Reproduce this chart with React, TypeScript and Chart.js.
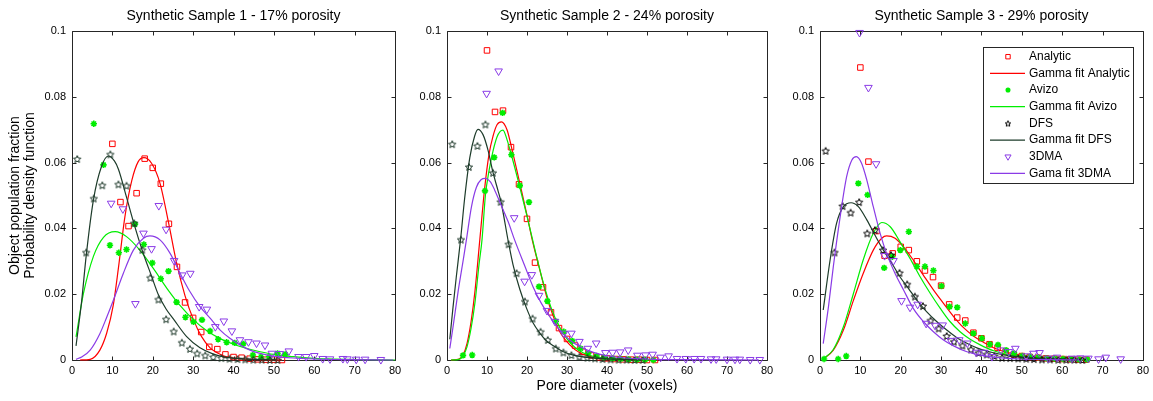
import React, { useEffect, useRef } from 'react';
import { Chart, registerables } from 'chart.js';
import { drawPoint } from 'chart.js/helpers';

Chart.register(...registerables);

const FONT = "'Liberation Sans', Arial, Helvetica, sans-serif";

// ---------- ticks / labels ----------
const xTickValues = [0, 10, 20, 30, 40, 50, 60, 70, 80];
const xTickLabels = ['0', '10', '20', '30', '40', '50', '60', '70', '80'];
const yTickValues = [0, 0.02, 0.04, 0.06, 0.08, 0.1];
const yTickLabels = ['0', '0.02', '0.04', '0.06', '0.08', '0.1'];

const panelTitles = [
  'Synthetic Sample 1 - 17% porosity',
  'Synthetic Sample 2 - 24% porosity',
  'Synthetic Sample 3 - 29% porosity',
];
const seriesLabels = [
  'Analytic', 'Gamma fit Analytic', 'Avizo', 'Gamma fit Avizo',
  'DFS', 'Gamma fit DFS', '3DMA', 'Gama fit 3DMA',
];
const yAxisTitle = ['Object population fraction', 'Probability density function'];
const xAxisTitle = 'Pore diameter (voxels)';

type P = [number, number][];

// ---------- Panel 1 ----------
const p1Analytic: P = [[10,0.0657],[12,0.048],[14,0.0407],[16,0.0507],[18,0.0612],[20,0.0584],[22,0.0536],[24,0.0414],[26,0.0283],[28,0.0175],[30,0.0128],[32,0.0085],[34,0.004],[36,0.0033],[38,0.0017],[40,0.0009],[42,0.0007],[44,0.0004],[46,0.0002],[48,0.0001],[50,0.0001],[52,0]];
const p1FitAnalytic: P = [[2,0],[4.5,0.0002],[6.9,0.003],[8.6,0.0082],[10.2,0.0165],[11.5,0.028],[13.1,0.0435],[14.8,0.0545],[16.4,0.0603],[17.8,0.0615],[19.7,0.0598],[21.8,0.0537],[23.9,0.0418],[25.9,0.0295],[28,0.0195],[30.1,0.0122],[32.1,0.0071],[34.2,0.0037],[36.3,0.002],[38.3,0.001],[42.4,0.0003],[46.6,0.0001],[52,0]];
const p1Avizo: P = [[5.4,0.0718],[7.8,0.0593],[9.4,0.0349],[11.6,0.0326],[13.5,0.0336],[15.6,0.0413],[17.8,0.0351],[19.9,0.0295],[22,0.0247],[23.9,0.027],[25.9,0.0176],[28.1,0.013],[30.1,0.0116],[32.2,0.0122],[34.2,0.0088],[36.2,0.0063],[38.3,0.0054],[40.3,0.0052],[42.4,0.0049],[44.8,0.0015],[46.8,0.001],[48.8,0.001],[50.9,0.002],[52.8,0.0017]];
const p1FitAvizo: P = [[1,0.007],[2.8,0.02],[5.3,0.0315],[7.8,0.0373],[10.7,0.039],[13.5,0.0375],[16.8,0.0334],[20.1,0.0279],[23.5,0.0218],[26.8,0.0165],[30.1,0.0122],[33.4,0.0089],[36.7,0.0065],[40,0.0048],[43.3,0.0035],[46.6,0.0025],[49.9,0.0017],[54.8,0.001],[59.8,0.0005],[64.7,0.0003],[71.3,0.0001],[80,0]];
const p1Dfs: P = [[1.3,0.0611],[3.5,0.0327],[5.4,0.0491],[7.5,0.0531],[9.5,0.0625],[11.5,0.0534],[13.5,0.053],[15.4,0.0416],[17.4,0.0335],[19.4,0.025],[21.4,0.0184],[23.3,0.0124],[25.2,0.0087],[27.2,0.0053],[29.2,0.0034],[31,0.002],[33,0.0014],[35,0.0009],[37,0.0006],[39,0.0004],[41,0.0003],[42.9,0.0002],[44.9,0.0001],[47,0.0001],[49,0],[50.9,0]];
const p1FitDfs: P = [[1,0.0043],[2.4,0.018],[3.5,0.0315],[5.3,0.0486],[7.3,0.0588],[9,0.062],[10.5,0.0605],[11.5,0.058],[13.5,0.0495],[15.4,0.0412],[17.4,0.0333],[19.7,0.0255],[21.4,0.0198],[23.3,0.0155],[25.1,0.0125],[28.4,0.0071],[31.7,0.0037],[35,0.0018],[38.3,0.0008],[41.6,0.0004],[45,0.0002],[51,0]];
const p1Dma: P = [[9.7,0.0476],[12.6,0.0459],[15.7,0.0171],[17.7,0.0385],[19.7,0.0338],[21.5,0.0469],[23.3,0.0397],[25.3,0.0302],[27.3,0.0258],[29.3,0.0263],[31.5,0.0162],[33.4,0.0154],[35.5,0.0101],[37.6,0.0118],[39.6,0.0088],[41.6,0.0061],[43.7,0.0055],[45.7,0.0051],[47.8,0.0045],[49.5,0.002],[51.5,0.0019],[53.7,0.0027],[56.1,0.001],[58,0.001],[60,0.0013],[62.1,0.0004],[63.9,0.0003],[67.1,0.0004],[68.2,0.0003],[70.4,0.0002],[72.6,0.0002],[76.5,0.0001]];
const p1FitDma: P = [[1,0.0002],[2.5,0.001],[4.5,0.003],[6.9,0.008],[8.6,0.013],[10.2,0.018],[12.7,0.0263],[15.2,0.0334],[17.7,0.037],[19.3,0.0377],[21.8,0.0365],[24.3,0.0324],[26.8,0.0263],[29.2,0.0208],[31.7,0.0162],[34.2,0.0127],[36.7,0.0091],[39.1,0.0066],[41.6,0.0046],[44.1,0.003],[46.6,0.002],[49.9,0.0012],[54.8,0.0006],[59.8,0.0003],[67.2,0.0001],[79.6,0]];

// ---------- Panel 2 ----------
const p2Analytic: P = [[10,0.0941],[12,0.0754],[14,0.0758],[16,0.0647],[18,0.0534],[20,0.0429],[22,0.0296],[24,0.0221],[26,0.0145],[28,0.0097],[30,0.0064],[32,0.0044],[34,0.0025],[36,0.0014],[38,0.0008],[40,0.0005],[42,0.0003],[44,0.0002],[46,0.0001],[48,0.0001],[50,0],[52,0]];
const p2FitAnalytic: P = [[1,0],[3,0.0003],[4,0.0015],[5,0.005],[6,0.0115],[7,0.021],[8.2,0.0365],[9.4,0.052],[10.5,0.0625],[11.5,0.068],[12.5,0.0715],[13.6,0.0724],[15,0.07],[16.1,0.0648],[18.2,0.0537],[19.9,0.0446],[21.5,0.0355],[23.2,0.0274],[24.9,0.0193],[26.6,0.0132],[28.2,0.0086],[30.7,0.0046],[33.2,0.0022],[36.6,0.0008],[39.9,0.0003],[44.9,0.0001],[52,0]];
const p2Avizo: P = [[4,0.0014],[6.3,0.0015],[9.5,0.0514],[11.8,0.0616],[13.9,0.0751],[16.1,0.0624],[18.2,0.053],[20.5,0.048],[23,0.0223],[25.1,0.0179],[27.2,0.0117],[29.2,0.0086],[31.3,0.0058],[33.4,0.0035],[35.3,0.002],[37.4,0.0012],[39.3,0.0008],[41.4,0.0005],[43.4,0.0003],[45.4,0.0002],[47.5,0.0001],[49.5,0.0001],[51.6,0]];
const p2FitAvizo: P = [[1,0],[3,0.0002],[4,0.0012],[5,0.004],[6,0.0095],[7,0.0175],[8,0.029],[8.75,0.0365],[9.6,0.05],[10.5,0.0575],[11.5,0.0635],[12.5,0.0678],[13.3,0.0695],[14,0.0699],[15,0.067],[16.1,0.0623],[18,0.0535],[20,0.0437],[22,0.0335],[24,0.0238],[26,0.016],[28,0.0103],[30,0.0064],[32,0.0038],[34,0.0022],[36,0.0013],[40,0.0004],[45,0.0001],[52,0]];
const p2Dfs: P = [[1.3,0.0656],[3.5,0.0366],[5.5,0.0587],[7.6,0.0651],[9.6,0.0716],[11.5,0.0569],[13.4,0.0481],[15.4,0.0352],[17.4,0.0264],[19.5,0.0178],[21.4,0.0126],[23.4,0.0086],[25.2,0.0061],[27.2,0.0035],[29.1,0.0023],[31.1,0.0015],[33.1,0.001],[35.1,0.0007],[37,0.0005],[38.9,0.0003],[40.9,0.0002],[42.9,0.0001],[44.9,0.0001],[46.9,0],[48.9,0]];
const p2FitDfs: P = [[0.7,0.0063],[1.5,0.016],[2.3,0.025],[3.4,0.0367],[4.4,0.049],[5.7,0.0615],[6.9,0.068],[7.75,0.0701],[9,0.0685],[10.25,0.0638],[11.5,0.057],[12.75,0.0515],[13.5,0.0481],[15.4,0.0355],[16.5,0.029],[18.2,0.0215],[19.9,0.0157],[21.5,0.0113],[23.2,0.0082],[24.9,0.0058],[26.6,0.0043],[29.1,0.0025],[31.6,0.0015],[34.9,0.0008],[39.1,0.0004],[43.3,0.0002],[48.9,0]];
const p2Dma: P = [[9.9,0.081],[12.9,0.0878],[16.8,0.0432],[19.4,0.0239],[21.2,0.0259],[23,0.0196],[25,0.015],[27,0.0117],[29.2,0.0081],[31.1,0.0081],[33.1,0.0056],[35.2,0.0035],[37.3,0.0051],[39.6,0.0022],[41.4,0.0023],[43.3,0.0024],[45.3,0.003],[47.6,0.0014],[49.6,0.0015],[51.4,0.0017],[53.4,0.0008],[55.4,0.0012],[57.5,0.0004],[59.7,0.0004],[61.8,0.0004],[63.5,0.0004],[66,0.0003],[67.3,0.0003],[70,0.0002],[72,0.0002],[73.2,0.0002],[75.8,0.0001],[78.2,0.0001]];
const p2FitDma: P = [[0.7,0.0035],[1.5,0.01],[2.8,0.021],[4,0.03],[4.85,0.0365],[6.1,0.0465],[7.35,0.0525],[8.5,0.0548],[9.6,0.0552],[10.8,0.0542],[11.9,0.0517],[13.2,0.048],[14.4,0.0446],[15.3,0.042],[16.9,0.0365],[19.5,0.0284],[21.5,0.0223],[23.6,0.0172],[25.7,0.0132],[28.2,0.0091],[30.7,0.0061],[33.2,0.0041],[36.6,0.0023],[39.9,0.0013],[44.9,0.0006],[51.6,0.0002],[60,0.0001],[78,0]];

// ---------- Panel 3 ----------
const p3Analytic: P = [[10,0.0889],[12,0.0603],[14,0.0392],[16,0.0317],[18,0.0324],[20,0.0344],[22,0.0334],[24,0.03],[26,0.0272],[28,0.0252],[30,0.0226],[32,0.0169],[34,0.0129],[36,0.012],[38,0.0083],[40,0.0066],[42,0.0048],[44,0.0037],[46,0.0026],[48,0.0017],[50,0.0012],[52,0.0009],[54,0.0007],[56,0.0005],[58,0.0004],[60,0.0003],[62,0.0002],[64,0.0001],[66,0.0001]];
const p3FitAnalytic: P = [[0.8,0.0003],[3.3,0.003],[5.8,0.0091],[8.3,0.0182],[10.7,0.0263],[13.2,0.0334],[15.3,0.037],[16.5,0.0377],[18.6,0.037],[20.7,0.0344],[23.1,0.0304],[25.6,0.0258],[28.1,0.0213],[30.6,0.0172],[33.1,0.0132],[35.5,0.0099],[38,0.0073],[40.5,0.0054],[43,0.0037],[46.3,0.0023],[49.6,0.0014],[54.5,0.0007],[60.3,0.0003],[66.1,0.0001]];
const p3Avizo: P = [[1,0.0003],[4.5,0.0003],[6.5,0.0012],[9.5,0.0537],[11.8,0.0502],[15.9,0.028],[17.9,0.0314],[19.9,0.0334],[22,0.039],[24,0.0284],[26,0.0284],[28.1,0.0272],[30.1,0.0225],[32.1,0.0162],[34,0.016],[36,0.0111],[38,0.0081],[40.1,0.0066],[42.1,0.0048],[44.1,0.0046],[46.1,0.003],[48.1,0.002],[50.1,0.0012],[52.1,0.001],[54.1,0.0008],[56.1,0.0005],[58.1,0.0004],[60.2,0.0003],[62.2,0.0002],[64.2,0.0001],[66.2,0.0001]];
const p3FitAvizo: P = [[0.8,0.0003],[3.3,0.0032],[5.8,0.0101],[8.3,0.0203],[10.7,0.0304],[13.2,0.0385],[15.3,0.0418],[17.4,0.0405],[19.8,0.036],[22.3,0.0309],[24.8,0.0253],[27.3,0.0203],[29.8,0.0157],[32.2,0.0117],[34.7,0.0086],[37.2,0.0063],[39.7,0.0046],[43,0.0028],[46.3,0.0017],[49.6,0.001],[54.5,0.0005],[60.3,0.0002],[66.1,0.0001]];
const p3Dfs: P = [[1.4,0.0636],[3.6,0.0327],[5.6,0.0468],[7.6,0.0448],[9.7,0.048],[11.7,0.0385],[13.6,0.0395],[15.6,0.0334],[17.6,0.0319],[19.7,0.0265],[21.6,0.023],[23.5,0.0193],[25.5,0.0164],[27.4,0.012],[29.4,0.0096],[31.4,0.0073],[33.2,0.0056],[35.3,0.0044],[37.4,0.0032],[39.3,0.0022],[41.3,0.0017],[43.2,0.0012],[45.1,0.0007],[47.1,0.0006],[49.1,0.0005],[51.1,0.0004],[53,0.0003],[55,0.0002],[57,0.0002],[59,0.0001],[61,0.0001],[63,0.0001],[65,0]];
const p3FitDfs: P = [[0.8,0.0152],[2.5,0.0304],[4.1,0.0415],[5.8,0.0466],[7.7,0.0478],[9.5,0.0466],[11.6,0.0426],[13.6,0.038],[15.7,0.0334],[17.8,0.0294],[19.8,0.0253],[21.9,0.0218],[24,0.0182],[26.4,0.0147],[28.9,0.0117],[31.4,0.0091],[33.9,0.0068],[36.4,0.0051],[39.7,0.0033],[43,0.0022],[46.3,0.0014],[51.2,0.0007],[56.2,0.0004],[62.8,0.0001]];
const p3Dma: P = [[9.8,0.0995],[12,0.0828],[13.9,0.0596],[16,0.0317],[18.2,0.0302],[20.2,0.018],[22.3,0.016],[24.2,0.0169],[26.3,0.0111],[28.5,0.0105],[30.4,0.0106],[32.4,0.0059],[34.5,0.0061],[36.5,0.0051],[38.7,0.0023],[40.7,0.0023],[42.6,0.001],[44.8,0.003],[46.8,0.0025],[48.4,0.0035],[51.1,0.0012],[52.9,0.002],[54.4,0.0022],[56.6,0.0005],[58.7,0.0008],[62.4,0.0005],[64.5,0.0006],[66.5,0.0005],[69,0.0003],[70.8,0.0008],[74.5,0.0003]];
const p3FitDma: P = [[0.8,0.005],[2.1,0.0162],[3.3,0.0284],[5,0.0436],[6.6,0.0557],[7.9,0.0608],[9,0.0618],[10.3,0.0598],[11.6,0.0547],[13.2,0.0466],[14.9,0.0385],[16.5,0.0324],[18.6,0.0263],[20.7,0.0213],[23.1,0.0157],[25.6,0.0117],[28.1,0.0086],[30.6,0.0061],[33.1,0.0043],[36.4,0.0025],[39.7,0.0015],[43.8,0.0008],[49.6,0.0003],[56.2,0.0001],[64,0]];

// ---------- styles ----------
const RED = '#ff0000';
const GREEN = '#00ee00';
const DFS_LINE = '#1d3b2a';
const PURPLE = '#8a3be6';
const FRAME = '#262626';

interface PanelDef {
  title: string;
  series: P[];
  dfsStarColor: string;
  left: number; width: number; yWidth: number; padRight: number;
  yTitle: boolean; xTitle: boolean; legend: boolean;
}

const PANELS: PanelDef[] = [
  { title: panelTitles[0], series: [p1Analytic, p1FitAnalytic, p1Avizo, p1FitAvizo, p1Dfs, p1FitDfs, p1Dma, p1FitDma], dfsStarColor: '#1a3526', left: 0, width: 410, yWidth: 72, padRight: 15, yTitle: true, xTitle: false, legend: false },
  { title: panelTitles[1], series: [p2Analytic, p2FitAnalytic, p2Avizo, p2FitAvizo, p2Dfs, p2FitDfs, p2Dma, p2FitDma], dfsStarColor: '#1a3526', left: 410, width: 375, yWidth: 37, padRight: 18, yTitle: false, xTitle: true, legend: false },
  { title: panelTitles[2], series: [p3Analytic, p3FitAnalytic, p3Avizo, p3FitAvizo, p3Dfs, p3FitDfs, p3Dma, p3FitDma], dfsStarColor: '#000000', left: 785, width: 368, yWidth: 35, padRight: 10, yTitle: false, xTitle: false, legend: true },
];

function makePentagram(color: string, outer: number): HTMLCanvasElement {
  const c = document.createElement('canvas');
  const s = Math.ceil(outer * 2 + 2);
  c.width = s; c.height = s;
  const g = c.getContext('2d')!;
  g.strokeStyle = color;
  g.lineWidth = 1;
  g.beginPath();
  for (let i = 0; i < 10; i++) {
    const r = i % 2 === 0 ? outer : outer * 0.45;
    const ang = -Math.PI / 2 + (i * Math.PI) / 5;
    const px = s / 2 + r * Math.cos(ang);
    const py = s / 2 + 0.4 + r * Math.sin(ang);
    if (i === 0) g.moveTo(px, py); else g.lineTo(px, py);
  }
  g.closePath();
  g.stroke();
  return c;
}

const toXY = (arr: P) => arr.map(([x, y]) => ({ x, y }));

const framePlugin = {
  id: 'matlabFrame',
  beforeDatasetsDraw(chart: any) {
    const { ctx, chartArea: a, scales } = chart;
    const L = Math.round(a.left) + 0.5, R = Math.round(a.right) + 0.5;
    const T = Math.round(a.top) + 0.5, B = Math.round(a.bottom) + 0.5;
    ctx.save();
    ctx.strokeStyle = FRAME;
    ctx.lineWidth = 1;
    ctx.beginPath();
    ctx.rect(L, T, R - L, B - T);
    const tl = 4;
    xTickValues.forEach((v) => {
      const px = Math.round(scales.x.getPixelForValue(v)) + 0.5;
      ctx.moveTo(px, B); ctx.lineTo(px, B - tl);
      ctx.moveTo(px, T); ctx.lineTo(px, T + tl);
    });
    yTickValues.forEach((v) => {
      const py = Math.round(scales.y.getPixelForValue(v)) + 0.5;
      ctx.moveTo(L, py); ctx.lineTo(L + tl, py);
      ctx.moveTo(R, py); ctx.lineTo(R - tl, py);
    });
    ctx.stroke();
    ctx.restore();
  },
};

const legendPlugin = {
  id: 'boxLegend',
  afterDraw(chart: any) {
    const { ctx, chartArea: a } = chart;
    const w = 150, h = 136;
    const left = Math.round(a.right) - 160;
    const top = Math.round(a.top) + 16;
    ctx.save();
    ctx.fillStyle = '#ffffff';
    ctx.fillRect(left, top, w, h);
    ctx.strokeStyle = FRAME;
    ctx.lineWidth = 1;
    ctx.strokeRect(left + 0.5, top + 0.5, w, h);
    ctx.font = `12px ${FONT}`;
    ctx.textBaseline = 'middle';
    ctx.textAlign = 'left';
    chart.data.datasets.forEach((ds: any, i: number) => {
      const y = top + 9.7 + i * 16.67;
      if (ds.showLine) {
        ctx.strokeStyle = ds.borderColor;
        ctx.lineWidth = ds.borderWidth;
        ctx.beginPath();
        ctx.moveTo(left + 7, y);
        ctx.lineTo(left + 42, y);
        ctx.stroke();
      } else {
        ctx.strokeStyle = ds.pointBorderColor;
        ctx.fillStyle = 'rgba(0,0,0,0)';
        ctx.lineWidth = ds.pointBorderWidth;
        drawPoint(ctx, {
          pointStyle: ds.legendStyle || ds.pointStyle,
          radius: ds.pointRadius * 0.8,
          borderWidth: ds.pointBorderWidth,
          rotation: ds.pointRotation || 0,
        } as any, left + 25, y);
      }
      ctx.fillStyle = '#000000';
      ctx.fillText(ds.label, left + 46, y);
    });
    ctx.restore();
  },
};

function buildChart(canvas: HTMLCanvasElement, p: PanelDef) {
  const star = makePentagram(p.dfsStarColor, 3.8);
  const smallStar = makePentagram(p.dfsStarColor, 3.0);
  const pointStyles: any[] = [
    { pointStyle: 'rect', pointRadius: 3.9, pointBorderWidth: 1, pointBorderColor: RED, pointRotation: 0 },
    null,
    { pointStyle: 'star', pointRadius: 3.2, pointBorderWidth: 1.6, pointBorderColor: GREEN, pointRotation: 0 },
    null,
    { pointStyle: star, legendStyle: smallStar, pointRadius: 4, pointBorderWidth: 1, pointBorderColor: p.dfsStarColor, pointRotation: 0 },
    null,
    { pointStyle: 'triangle', pointRadius: 4.4, pointBorderWidth: 1, pointBorderColor: PURPLE, pointRotation: 180 },
    null,
  ];
  const lineColors = [RED, RED, GREEN, GREEN, DFS_LINE, DFS_LINE, PURPLE, PURPLE];

  const datasets = p.series.map((arr, i) => {
    const ps = pointStyles[i];
    if (ps) {
      return {
        label: seriesLabels[i],
        data: toXY(arr),
        showLine: false,
        pointStyle: ps.pointStyle,
        legendStyle: ps.legendStyle,
        pointRadius: ps.pointRadius,
        pointBorderWidth: ps.pointBorderWidth,
        pointBorderColor: ps.pointBorderColor,
        pointBackgroundColor: 'rgba(0,0,0,0)',
        pointRotation: ps.pointRotation,
        borderColor: ps.pointBorderColor,
        backgroundColor: 'rgba(0,0,0,0)',
        clip: false,
        order: 7 - i,
      };
    }
    return {
      label: seriesLabels[i],
      data: toXY(arr),
      showLine: true,
      pointRadius: 0,
      borderColor: lineColors[i],
      borderWidth: 1.2,
      backgroundColor: 'rgba(0,0,0,0)',
      fill: false,
      cubicInterpolationMode: 'monotone',
      clip: false,
      order: 7 - i,
    };
  });

  const tickFont = { family: FONT, size: 11 };
  const titleFont = { family: FONT, size: 14, weight: 'normal' as const };

  return new Chart(canvas, {
    type: 'scatter',
    data: { datasets: datasets as any },
    options: {
      responsive: false,
      animation: false,
      events: [],
      layout: { padding: { left: 0, right: p.padRight, top: 0, bottom: 0 } },
      plugins: {
        legend: { display: false },
        tooltip: { enabled: false },
        title: {
          display: true,
          text: p.title,
          fullSize: false,
          color: '#000000',
          font: { ...titleFont, lineHeight: 1.2 },
          padding: { top: 8, bottom: 6.2 },
        },
      },
      scales: {
        x: {
          type: 'linear',
          min: 0,
          max: 80,
          afterBuildTicks: (s: any) => { s.ticks = xTickValues.map((v) => ({ value: v })); },
          afterFit: (s: any) => { s.height = 41; },
          grid: { display: false, drawTicks: false, tickLength: 0 },
          border: { display: false },
          ticks: {
            color: '#000000',
            font: tickFont,
            padding: 4,
            maxRotation: 0,
            autoSkip: false,
            callback: (_v: any, i: number) => xTickLabels[i],
          },
          title: {
            display: p.xTitle,
            text: xAxisTitle,
            color: '#000000',
            font: { ...titleFont, lineHeight: 1.2 },
            padding: { top: 0, bottom: 6.6 },
          },
        },
        y: {
          type: 'linear',
          min: 0,
          max: 0.1,
          afterBuildTicks: (s: any) => { s.ticks = yTickValues.map((v) => ({ value: v })); },
          afterFit: (s: any) => { s.width = p.yWidth; },
          grid: { display: false, drawTicks: false, tickLength: 0 },
          border: { display: false },
          ticks: {
            color: '#000000',
            font: tickFont,
            padding: 6,
            autoSkip: false,
            callback: (_v: any, i: number) => yTickLabels[i],
          },
          title: {
            display: p.yTitle,
            text: yAxisTitle,
            color: '#000000',
            font: { ...titleFont, lineHeight: 15 / 14 },
            padding: { top: 7.5, bottom: 0 },
          },
        },
      },
    } as any,
    plugins: p.legend ? [framePlugin, legendPlugin] : [framePlugin],
  });
}

export default function App() {
  const canvases = useRef<(HTMLCanvasElement | null)[]>([]);

  useEffect(() => {
    const charts = PANELS.map((p, i) => buildChart(canvases.current[i]!, p));
    return () => charts.forEach((c) => c.destroy());
  }, []);

  return (
    <div style={{ position: 'absolute', left: 0, top: 0, width: 1153, height: 401, background: '#ffffff', overflow: 'hidden' }}>
      {PANELS.map((p, i) => (
        <canvas
          key={i}
          ref={(el) => { canvases.current[i] = el; }}
          width={p.width}
          height={401}
          style={{ position: 'absolute', left: p.left, top: 0, width: p.width, height: 401, display: 'block' }}
        />
      ))}
    </div>
  );
}
